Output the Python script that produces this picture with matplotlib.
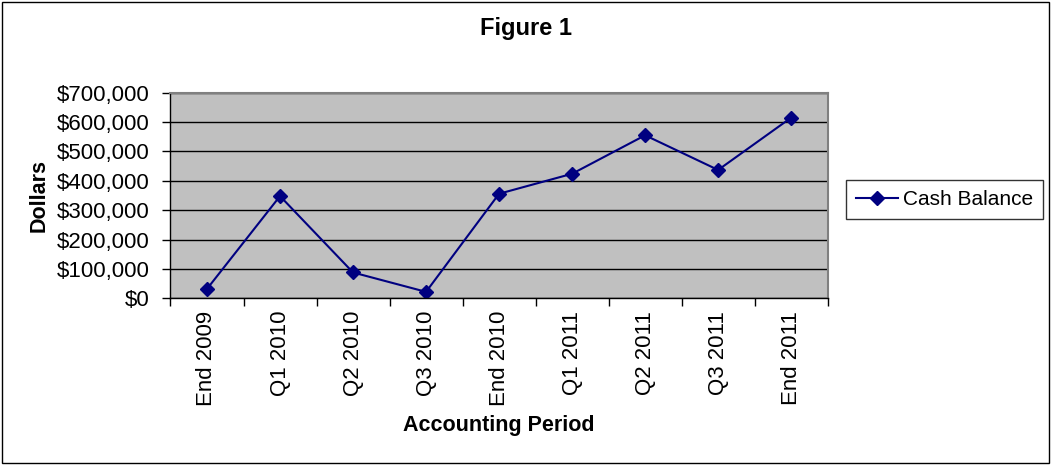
import numpy as np
import matplotlib
matplotlib.use("Agg")
import matplotlib.pyplot as plt
from matplotlib.patches import Rectangle
from matplotlib.ticker import FuncFormatter, FixedLocator

plt.rcParams['font.family'] = ['Liberation Sans', 'DejaVu Sans']

# data
periods = ["End 2009", "Q1 2010", "Q2 2010", "Q3 2010", "End 2010",
           "Q1 2011", "Q2 2011", "Q3 2011", "End 2011"]
cash_balance = [32000, 348000, 88000, 22000, 356000,
                424000, 555000, 437000, 615000]
y_ticks = [0, 100000, 200000, 300000, 400000, 500000, 600000, 700000]

fig = plt.figure(figsize=(10.53, 4.67), dpi=100)
ax = fig.add_axes([0.1619, 0.3612, 0.6241, 0.4403])

x = np.arange(len(periods))
ax.plot(x, cash_balance, color='#000080', lw=1.5, marker='D', ms=7,
        mec='#000080', mfc='#000080', label='Cash Balance')

ax.set_facecolor('#c0c0c0')
ax.set_xlim(-0.5, len(periods) - 0.5)
ax.set_ylim(0, 700000)

# horizontal gridlines, black
ax.set_yticks(y_ticks)
ax.yaxis.set_major_formatter(FuncFormatter(lambda v, p: "${:,.0f}".format(v)))
ax.grid(axis='y', color='black', lw=1)
ax.set_axisbelow(True)

# ticks between categories, labels at centres
ax.xaxis.set_major_locator(FixedLocator(np.arange(len(periods) + 1) - 0.5))
ax.xaxis.set_major_formatter(FuncFormatter(lambda v, p: ""))
ax.xaxis.set_minor_locator(FixedLocator(x))
ax.set_xticklabels(periods, minor=True, rotation=90)
ax.tick_params(axis='x', which='major', direction='out', length=6, width=1)
ax.tick_params(axis='x', which='minor', length=0, pad=9, labelsize=16)
ax.tick_params(axis='y', direction='out', length=6, width=1, pad=9, labelsize=16)

for s in ['top', 'right']:
    ax.spines[s].set_color('#808080')
    ax.spines[s].set_linewidth(1.5)
for s in ['left', 'bottom']:
    ax.spines[s].set_color('black')
    ax.spines[s].set_linewidth(1)

ax.set_xlabel("Accounting Period", fontsize=15.5, fontweight='bold', labelpad=6)
ax.set_ylabel("Dollars", fontsize=15.5, fontweight='bold', labelpad=5)

fig.text(0.5, 0.938, "Figure 1", ha='center', va='center',
         fontsize=17, fontweight='bold')

leg = fig.legend(loc='center left', bbox_to_anchor=(845.5 / 1053, 1 - 199.5 / 467),
                 frameon=True, fancybox=False, fontsize=15, handlelength=2.0,
                 handletextpad=0.25, borderpad=0.5, borderaxespad=0)
leg.get_frame().set_edgecolor('black')
leg.get_frame().set_linewidth(1)

fig.patches.append(Rectangle((0.0015, 0.0086), 0.9947, 0.9871,
                             transform=fig.transFigure, fill=False,
                             edgecolor='black', lw=1))

fig.savefig("out.png", dpi=100)
